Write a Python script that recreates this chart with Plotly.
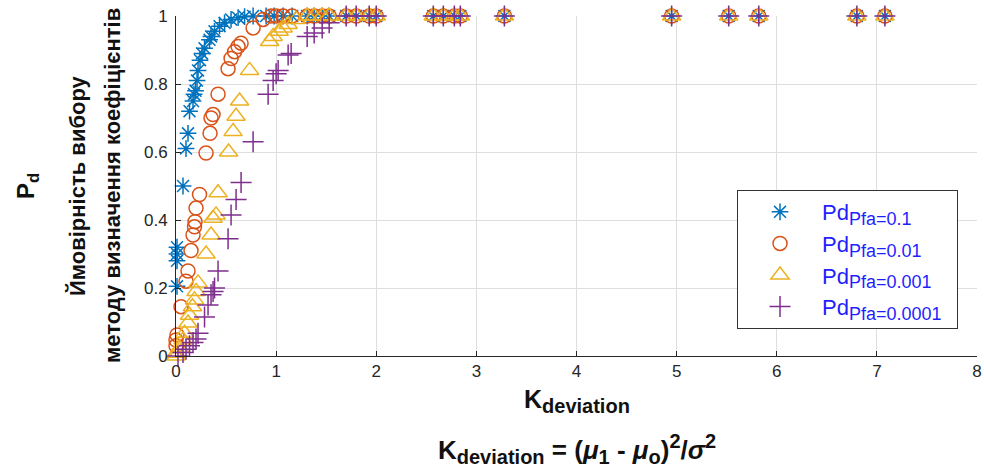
import plotly.graph_objects as go

# ---- data ----
k_top = [1.31, 1.38, 1.46, 1.53, 1.70, 1.80, 1.93, 2.00, 2.57, 2.67, 2.78, 2.84, 3.28, 4.95, 5.52, 5.82, 6.80, 7.08]

k_01 = [0.01, 0.01, 0.01, 0.01, 0.07, 0.10, 0.12, 0.135, 0.17, 0.18, 0.195, 0.21, 0.22, 0.24, 0.26,
        0.285, 0.335, 0.35, 0.385, 0.435, 0.485, 0.55, 0.62, 0.685, 0.77, 0.90, 0.98, 1.07, 1.16]
pd_01 = [0.205, 0.28, 0.30, 0.32, 0.50, 0.61, 0.655, 0.72, 0.75, 0.77, 0.78, 0.81, 0.84, 0.87, 0.89,
         0.905, 0.93, 0.94, 0.955, 0.97, 0.98, 0.99, 0.995, 0.998, 1.0, 1.0, 1.0, 1.0, 1.0]
pd_01_top = [1.0, 1.0, 1.0, 1.0, 1.0, 1.0, 1.0, 1.0, 1.0, 1.0, 1.0, 1.0, 1.0, 1.0, 1.0, 1.0, 1.0, 1.0]

k_001 = [0.00, 0.00, 0.01, 0.05, 0.10, 0.12, 0.15, 0.17, 0.185, 0.19, 0.20, 0.235, 0.30, 0.34,
         0.35, 0.37, 0.42, 0.52, 0.55, 0.585, 0.62, 0.65, 0.77, 0.87, 0.95, 1.00, 1.07, 1.16]
pd_001 = [0.03, 0.047, 0.062, 0.145, 0.22, 0.25, 0.31, 0.356, 0.38, 0.395, 0.435, 0.475, 0.597, 0.655,
          0.70, 0.71, 0.77, 0.845, 0.875, 0.895, 0.91, 0.92, 0.965, 0.99, 1.0, 1.0, 1.0, 1.0]
pd_001_top = [1.0, 1.0, 1.0, 1.0, 1.0, 1.0, 1.0, 1.0, 1.0, 1.0, 1.0, 1.0, 1.0, 1.0, 1.0, 1.0, 1.0, 1.0]

k_0001 = [0.0, 0.0, 0.035, 0.07, 0.085, 0.12, 0.135, 0.165, 0.185, 0.20, 0.22, 0.30, 0.35, 0.37,
          0.40, 0.42, 0.525, 0.57, 0.60, 0.635, 0.735, 0.935, 0.97, 1.03, 1.07, 1.12, 1.20]
pd_0001 = [0.0, 0.008, 0.023, 0.047, 0.067, 0.097, 0.12, 0.145, 0.165, 0.19, 0.215, 0.30, 0.356, 0.405,
           0.415, 0.48, 0.60, 0.66, 0.705, 0.75, 0.84, 0.925, 0.94, 0.955, 0.965, 0.975, 0.99]
pd_0001_top = [1.0, 1.0, 1.0, 1.0, 1.0, 1.0, 1.0, 1.0, 1.0, 1.0, 1.0, 1.0, 1.0, 1.0, 1.0, 1.0, 1.0, 1.0]

k_00001 = [0.02, 0.07, 0.10, 0.135, 0.17, 0.20, 0.22, 0.285, 0.32, 0.35, 0.37, 0.385,
           0.42, 0.52, 0.55, 0.60, 0.65, 0.77, 0.92, 0.97, 1.00, 1.02, 1.12, 1.15]
pd_00001 = [0.0, 0.01, 0.02, 0.03, 0.04, 0.05, 0.067, 0.115, 0.15, 0.18, 0.19, 0.20,
            0.25, 0.345, 0.415, 0.46, 0.51, 0.63, 0.77, 0.81, 0.83, 0.84, 0.885, 0.89]
pd_00001_top = [0.94, 0.95, 0.965, 0.98, 1.0, 1.0, 1.0, 1.0, 1.0, 1.0, 1.0, 1.0, 1.0, 1.0, 1.0, 1.0, 1.0, 1.0]

pfa_labels = ["Pfa=0.1", "Pfa=0.01", "Pfa=0.001", "Pfa=0.0001"]
x_ticks = [0, 1, 2, 3, 4, 5, 6, 7, 8]
y_ticks = [0, 0.2, 0.4, 0.6, 0.8, 1]
y_tick_text = ["0", "0.2", "0.4", "0.6", "0.8", "1"]

series = [
    (k_01 + k_top, pd_01 + pd_01_top, "asterisk-open", "#0072BD", 14),
    (k_001 + k_top, pd_001 + pd_001_top, "circle-open", "#D95319", 14),
    (k_0001 + k_top, pd_0001 + pd_0001_top, "triangle-up-open", "#EDB120", 16),
    (k_00001 + k_top, pd_00001 + pd_00001_top, "cross-thin-open", "#7E2F8E", 15),
]

FONT = "Liberation Sans, Arial, Helvetica, sans-serif"

fig = go.Figure()
for (xs, ys, sym, col, sz), lab in zip(series, pfa_labels):
    fig.add_trace(go.Scatter(
        x=xs, y=ys, mode="markers", cliponaxis=False,
        name="Pd<sub><span style='font-size:18px'>" + lab + "&nbsp;&nbsp;</span></sub>",
        marker=dict(symbol=sym, size=sz, color=col, line=dict(color=col, width=1.5)),
    ))

axis_common = dict(
    showgrid=True, gridcolor="#dedede", gridwidth=1, zeroline=False,
    showline=True, linecolor="#262626", linewidth=1,
    ticks="inside", ticklen=5, tickcolor="#262626",
    tickfont=dict(family=FONT, size=17, color="#262626"),
    mirror=False, ticklabeloverflow="allow", automargin=False,
)

fig.update_layout(
    width=984, height=468,
    margin=dict(l=176, r=7, t=16, b=112, autoexpand=False),
    paper_bgcolor="white", plot_bgcolor="white",
    xaxis=dict(range=[0, 8], tickvals=x_ticks, **axis_common),
    yaxis=dict(range=[0, 1], tickvals=y_ticks, ticktext=y_tick_text, ticklabelstandoff=4, **axis_common),
    legend=dict(
        x=0.7004, y=0.4882, xanchor="left", yanchor="top",
        bgcolor="white", bordercolor="#333333", borderwidth=1,
        font=dict(family=FONT, size=22, color="#1f1fff"),
        itemwidth=74,
    ),
    showlegend=True,
)

# y-axis title lines
ytitle = [
    ("<b>P<sub>d</sub></b>", -149, 24),
    ("<b>Ймовірність вибору</b>", -99, 22),
    ("<b>методу визначення коефіцієнтів</b>", -64, 22),
]
for txt, xs_, fs in ytitle:
    fig.add_annotation(text=txt, xref="paper", yref="paper", x=0, y=0.5,
                       xanchor="center", yanchor="middle", xshift=xs_, textangle=-90,
                       showarrow=False, font=dict(family=FONT, size=fs, color="#111111"))

# x-axis title lines
SUB = "<span style='font-size:20px'>"
fig.add_annotation(text="<b>K<sub>" + SUB + "deviation</span></sub></b>", xref="paper", yref="paper",
                   x=0.5, y=0, xanchor="center", yanchor="middle", yshift=-45,
                   showarrow=False, font=dict(family=FONT, size=25, color="#111111"))
fig.add_annotation(text="<b>K<sub>" + SUB + "deviation</span></sub> = (<i>μ</i><sub>" + SUB + "1</span></sub> - <i>μ</i><sub>"
                        + SUB + "o</span></sub>)<sup>" + SUB + "2</span></sup>/<i>σ</i><sup>" + SUB + "2</span></sup></b>",
                   xref="paper", yref="paper",
                   x=0.5, y=0, xanchor="center", yanchor="middle", yshift=-93,
                   showarrow=False, font=dict(family=FONT, size=26, color="#111111"))

fig.write_html("out.html", config={"displayModeBar": False},
               post_script="document.body.style.margin='0';document.documentElement.style.overflow='hidden';")
